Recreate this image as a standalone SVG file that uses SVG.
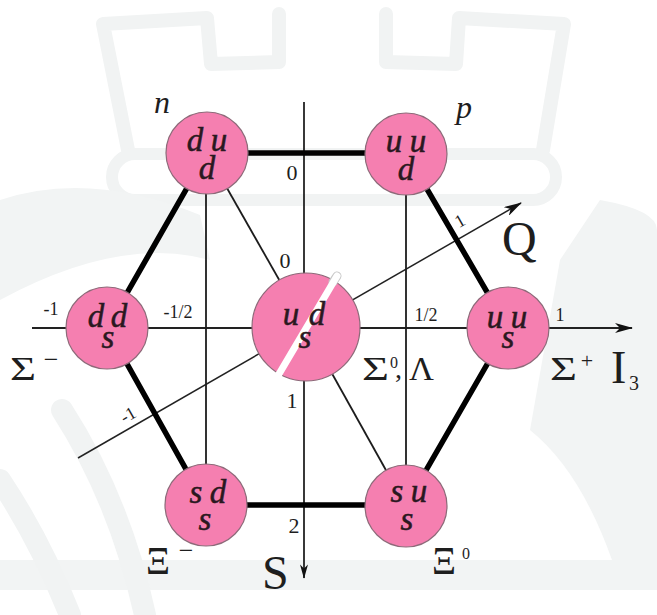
<svg xmlns="http://www.w3.org/2000/svg" width="657" height="615" viewBox="0 0 657 615">
  <defs>
    <marker id="arrow" viewBox="0 0 18 10" refX="17" refY="5" markerWidth="18" markerHeight="10" markerUnits="userSpaceOnUse" orient="auto">
      <path d="M0,0 L18,5 L0,10 L5,5 Z" fill="#111"/>
    </marker>
    <marker id="arrowSmall" viewBox="0 0 18 10" refX="17" refY="5" markerWidth="15" markerHeight="8" markerUnits="userSpaceOnUse" orient="auto">
      <path d="M0,0 L18,5 L0,10 L5,5 Z" fill="#111"/>
    </marker>
  </defs>
  <style>
    .wm { fill: none; stroke: #f1f3f3; stroke-linejoin: round; stroke-linecap: round; }
    .wmf { fill: #f2f4f4; }
    .edge { stroke: #000; stroke-width: 5.5; stroke-linecap: round; fill: none; }
    .thin { stroke: #1c1c1c; stroke-width: 1.8; fill: none; }
    .axis { stroke: #222; stroke-width: 1.8; fill: none; }
    .qaxis { stroke: #222; stroke-width: 1.5; fill: none; }
    .node circle { fill: #f57fb0; stroke: #8d6a79; stroke-width: 1.2; }
    .q { font-family: "Liberation Serif", "DejaVu Serif", serif; font-style: italic; font-size: 33px; fill: #2a1820; stroke: #2a1820; stroke-width: 0.5; text-anchor: middle; }
    .lbl { font-family: "Liberation Serif", "DejaVu Serif", serif; fill: #1e1e1e; }
    .tick { font-size: 18px; text-anchor: middle; }
    .stick { font-size: 22px; text-anchor: middle; }
    .greek { font-size: 34px; }
    .xi { font-size: 40px; }
    .sup { font-size: 16px; }
    .big { font-size: 48px; }
    .ital { font-style: italic; font-size: 32px; text-anchor: middle; }
  </style>

  <rect width="657" height="615" fill="#ffffff"/>

  <!-- faint crest in the background -->
  <g id="watermark">
    <path class="wm" stroke-width="14" d="M128,150 L103,24 L207,18 L211,64 L279,62 L279,14 M386,14 L386,62 L456,64 L459,18 L564,24 L543,150"/>
    <rect class="wm" stroke-width="12" x="112" y="154" width="444" height="46" rx="23"/>
    <rect class="wmf" x="0" y="560" width="657" height="30"/>
    <path class="wmf" d="M0,200 Q90,170 200,215 L210,260 Q120,235 0,300 Z"/>
    <path class="wmf" d="M600,200 Q657,210 657,230 L657,560 L612,560 Q580,470 530,430 L560,260 Z"/>
    <path class="wm" stroke-width="22" d="M0,480 Q40,540 70,615"/>
    <path class="wm" stroke-width="22" d="M62,410 Q120,500 145,615"/>
  </g>

  <!-- connectors -->
  <g id="connectors">
    <!-- axes -->
    <line class="axis" x1="32" y1="328" x2="632" y2="328" marker-end="url(#arrow)"/>
    <line class="axis" x1="304" y1="102" x2="304" y2="578" marker-end="url(#arrowSmall)"/>
    <line class="qaxis" x1="78" y1="458" x2="521" y2="203" marker-end="url(#arrow)"/>
    <!-- inner thin lines -->
    <line class="thin" x1="206" y1="153" x2="206" y2="505"/>
    <line class="thin" x1="406" y1="154" x2="406" y2="506"/>
    <line class="thin" x1="207" y1="153" x2="306" y2="327"/>
    <line class="thin" x1="306" y1="327" x2="406" y2="506"/>
    <!-- hexagon -->
    <path class="edge" d="M207,153 L406,153 L508,328 L406,505 L206,505 L107,328 Z"/>
  </g>

  <!-- nodes -->
  <g id="node-n" class="node">
    <circle cx="207" cy="153" r="41"/>
    <text class="q" x="195 219" y="151">du</text>
    <text class="q" x="207" y="179">d</text>
  </g>
  <g id="node-p" class="node">
    <circle cx="406" cy="154" r="41"/>
    <text class="q" x="394 418" y="152">uu</text>
    <text class="q" x="406" y="180">d</text>
  </g>
  <g id="node-sigma-minus" class="node">
    <circle cx="107" cy="328" r="41"/>
    <text class="q" x="96 119" y="327">dd</text>
    <text class="q" x="108" y="348">s</text>
  </g>
  <g id="node-sigma0-lambda" class="node">
    <circle cx="306" cy="327" r="54"/>
    <line x1="333" y1="282" x2="337" y2="276" stroke="#c8c8c8" stroke-width="9" stroke-linecap="round"/>
    <line x1="279" y1="374" x2="337" y2="276" stroke="#ffffff" stroke-width="7" stroke-linecap="round"/>
    <text class="q" x="291 317" y="325">ud</text>
    <text class="q" x="305" y="348">s</text>
  </g>
  <g id="node-sigma-plus" class="node">
    <circle cx="508" cy="328" r="41"/>
    <text class="q" x="495 519" y="328">uu</text>
    <text class="q" x="508" y="348">s</text>
  </g>
  <g id="node-xi-minus" class="node">
    <circle cx="206" cy="505" r="41"/>
    <text class="q" x="196 218" y="503">sd</text>
    <text class="q" x="205" y="530">s</text>
  </g>
  <g id="node-xi0" class="node">
    <circle cx="406" cy="506" r="41"/>
    <text class="q" x="397 419" y="502">su</text>
    <text class="q" x="407" y="530">s</text>
  </g>

  <!-- particle names -->
  <g id="names" class="lbl">
    <text class="ital" x="162" y="113">n</text>
    <text class="ital" x="464" y="118">p</text>
    <text class="greek" x="10" y="380" textLength="26" lengthAdjust="spacingAndGlyphs">Σ</text>
    <text x="51" y="368" font-size="26" text-anchor="middle">−</text>
    <text class="greek" x="362" y="380" textLength="27" lengthAdjust="spacingAndGlyphs">Σ</text>
    <text class="sup" x="394" y="368" text-anchor="middle">0</text>
    <text x="395" y="378" font-size="28">,</text>
    <text class="greek" x="409" y="380" textLength="25" lengthAdjust="spacingAndGlyphs">Λ</text>
    <text class="greek" x="550" y="380" textLength="27" lengthAdjust="spacingAndGlyphs">Σ</text>
    <text x="587" y="368" font-size="22" text-anchor="middle">+</text>
    <text class="xi" x="146" y="574" textLength="24" lengthAdjust="spacingAndGlyphs">Ξ</text>
    <text x="186" y="559" font-size="26" text-anchor="middle">−</text>
    <text class="xi" x="432" y="574" textLength="24" lengthAdjust="spacingAndGlyphs">Ξ</text>
    <text class="sup" x="466" y="559" text-anchor="middle">0</text>
  </g>

  <!-- axis names and ticks -->
  <g id="axis-labels" class="lbl">
    <text x="611" y="383" font-size="46">I</text>
    <text x="629" y="390" font-size="20">3</text>
    <text class="big" x="262" y="589">S</text>
    <text class="big" x="502" y="255">Q</text>
    <text class="tick" x="51" y="315">-1</text>
    <text class="tick" x="178" y="318">-1/2</text>
    <text class="tick" x="426" y="321">1/2</text>
    <text class="tick" x="560" y="321">1</text>
    <text class="stick" x="292" y="180">0</text>
    <text class="stick" x="285" y="268">0</text>
    <text class="stick" x="292" y="408">1</text>
    <text class="stick" x="294" y="533">2</text>
    <text class="tick" transform="translate(463,226) rotate(-30)">1</text>
    <text class="tick" transform="translate(131,420) rotate(-30)">-1</text>
  </g>
</svg>
